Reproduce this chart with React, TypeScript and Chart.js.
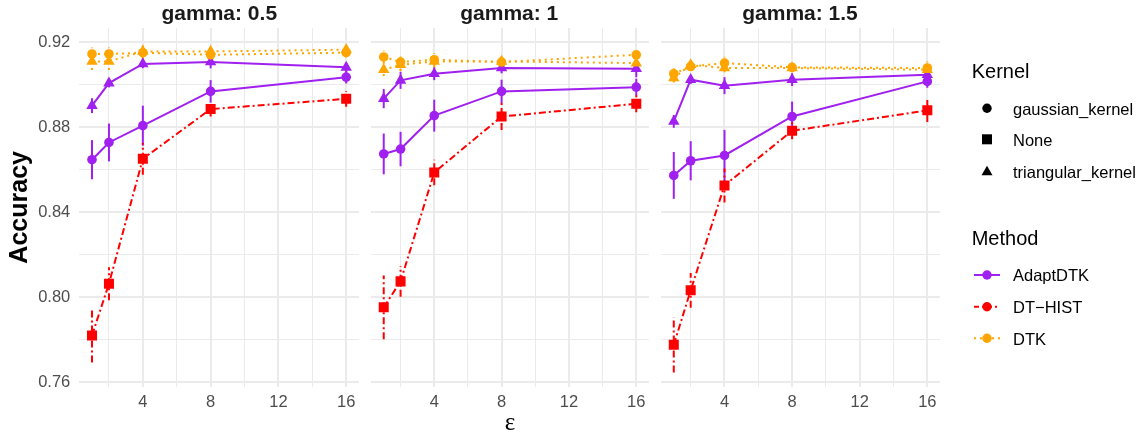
import React, { useEffect, useRef } from "react";
import { Chart, registerables } from "chart.js";

Chart.register(...registerables);

// ---------- data ----------
const EPSILON = [1, 2, 4, 8, 16];
const GAMMA_LABELS = ["gamma: 0.5", "gamma: 1", "gamma: 1.5"];
const X_GRID_TICKS = [2, 4, 6, 8, 10, 12, 14, 16];
const X_LABEL_TICKS = [4, 8, 12, 16];
const Y_GRID_TICKS = [0.76, 0.78, 0.8, 0.82, 0.84, 0.86, 0.88, 0.9, 0.92];
const Y_LABEL_TICKS = [0.76, 0.8, 0.84, 0.88, 0.92];
const X_RANGE = [0.25, 16.75];
const Y_RANGE = [0.758, 0.9266];

const KERNEL_LABELS = ["gaussian_kernel", "None", "triangular_kernel"];
const METHOD_LABELS = ["AdaptDTK", "DT\u2212HIST", "DTK"];

// one row per gamma panel (0.5, 1, 1.5)
const ADAPT_GAUSS = [
  [0.8647, 0.8728, 0.8807, 0.8968, 0.9035],
  [0.8674, 0.8697, 0.8854, 0.8968, 0.8988],
  [0.8573, 0.8642, 0.8667, 0.885, 0.9015],
];
const ADAPT_GAUSS_ERR = [
  [0.0092, 0.0089, 0.0094, 0.0053, 0.003],
  [0.0096, 0.0081, 0.0075, 0.0055, 0.004],
  [0.011, 0.0092, 0.012, 0.007, 0.003],
];
const ADAPT_TRI = [
  [0.8901, 0.9007, 0.9097, 0.9106, 0.9081],
  [0.8934, 0.902, 0.9051, 0.9078, 0.9075],
  [0.8827, 0.9023, 0.8995, 0.9023, 0.9046],
];
const ADAPT_TRI_ERR = [
  [0.0035, 0.002, 0.002, 0.003, 0.002],
  [0.0045, 0.004, 0.003, 0.0025, 0.004],
  [0.003, 0.002, 0.004, 0.003, 0.002],
];
const HIST_NONE = [
  [0.7821, 0.8064, 0.8651, 0.8885, 0.8933],
  [0.7953, 0.8075, 0.8587, 0.885, 0.891],
  [0.7777, 0.8033, 0.8526, 0.8783, 0.8879],
];
const HIST_NONE_ERR = [
  [0.0127, 0.0078, 0.0075, 0.0035, 0.0037],
  [0.015, 0.0072, 0.006, 0.0063, 0.004],
  [0.013, 0.0082, 0.008, 0.004, 0.0055],
];
const DTK_GAUSS = [
  [0.9144, 0.9144, 0.915, 0.914, 0.915],
  [0.913, 0.9106, 0.9117, 0.9106, 0.914],
  [0.9051, 0.9085, 0.9101, 0.9081, 0.9078],
];
const DTK_GAUSS_ERR = [
  [0.003, 0.003, 0.003, 0.002, 0.002],
  [0.003, 0.004, 0.003, 0.002, 0.002],
  [0.004, 0.002, 0.003, 0.002, 0.003],
];
const DTK_TRI = [
  [0.9109, 0.9109, 0.9156, 0.9156, 0.9164],
  [0.907, 0.9093, 0.9109, 0.9109, 0.9101],
  [0.9031, 0.9093, 0.9078, 0.9078, 0.907],
];
const DTK_TRI_ERR = [
  [0.004, 0.004, 0.003, 0.002, 0.002],
  [0.003, 0.003, 0.003, 0.002, 0.003],
  [0.002, 0.002, 0.002, 0.002, 0.002],
];

// ---------- style ----------
const PURPLE = "#A020F0";
const RED = "#FF0000";
const ORANGE = "#FFA500";
const DOTDASH = [7, 3, 2, 3];
const DOTTED = [2, 4];
const SANS = "'Liberation Sans', Arial, Helvetica, sans-serif";
const GRID = "#EBEBEB";

const PANEL_GEOM = [
  { left: 0, width: 366, axisW: 79.3, padRight: 6.7 },
  { left: 364, width: 292, axisW: 5.3, padRight: 6.7 },
  { left: 654, width: 296, axisW: 6, padRight: 10 },
];
const HEIGHT = 437;
const TOP_PAD = 28;
const X_AXIS_H = 50.3;

const near = (arr: number[], v: number) => arr.some((a) => Math.abs(a - v) < 1e-9);

const errorBarPlugin = {
  id: "errorBars",
  beforeDatasetsDraw(chart: any) {
    const { ctx } = chart;
    const xs = chart.scales.x;
    const ys = chart.scales.y;
    chart.data.datasets.forEach((ds: any) => {
      ctx.save();
      ctx.strokeStyle = ds.borderColor;
      ctx.lineWidth = 2;
      ctx.lineCap = "butt";
      ctx.setLineDash(ds.borderDash || []);
      ds.data.forEach((p: any, k: number) => {
        const e = ds.errors[k];
        const px = xs.getPixelForValue(p.x);
        ctx.beginPath();
        ctx.moveTo(px, ys.getPixelForValue(p.y - e));
        ctx.lineTo(px, ys.getPixelForValue(p.y + e));
        ctx.stroke();
      });
      ctx.restore();
    });
  },
};

function Panel({ index }: { index: number }) {
  const ref = useRef<HTMLCanvasElement | null>(null);
  const g = PANEL_GEOM[index];

  useEffect(() => {
    if (!ref.current) return;
    const series = [
      { vals: DTK_GAUSS[index], errs: DTK_GAUSS_ERR[index], color: ORANGE, dash: DOTTED, style: "circle", r: 4.8, label: "DTK gaussian_kernel" },
      { vals: DTK_TRI[index], errs: DTK_TRI_ERR[index], color: ORANGE, dash: DOTTED, style: "triangle", r: 6.6, label: "DTK triangular_kernel" },
      { vals: ADAPT_TRI[index], errs: ADAPT_TRI_ERR[index], color: PURPLE, dash: [], style: "triangle", r: 6.6, label: "AdaptDTK triangular_kernel" },
      { vals: ADAPT_GAUSS[index], errs: ADAPT_GAUSS_ERR[index], color: PURPLE, dash: [], style: "circle", r: 4.8, label: "AdaptDTK gaussian_kernel" },
      { vals: HIST_NONE[index], errs: HIST_NONE_ERR[index], color: RED, dash: DOTDASH, style: "rect", r: 7.1, label: "DT-HIST None" },
    ];
    const datasets = series.map((s) => ({
      label: s.label,
      data: EPSILON.map((x, k) => ({ x, y: s.vals[k] })),
      errors: s.errs,
      borderColor: s.color,
      backgroundColor: s.color,
      pointBackgroundColor: s.color,
      pointBorderColor: s.color,
      pointBorderWidth: 0,
      borderWidth: 2,
      borderDash: s.dash,
      pointStyle: s.style,
      pointRadius: s.r,
      pointHoverRadius: s.r,
      tension: 0,
      fill: false,
    }));

    const chart = new Chart(ref.current, {
      type: "line",
      data: { datasets } as any,
      plugins: [errorBarPlugin],
      options: {
        animation: false,
        responsive: false,
        maintainAspectRatio: false,
        events: [],
        layout: { padding: { top: TOP_PAD, right: g.padRight, left: 0, bottom: 0 } },
        plugins: { legend: { display: false }, tooltip: { enabled: false }, title: { display: false } },
        scales: {
          x: {
            type: "linear",
            min: X_RANGE[0],
            max: X_RANGE[1],
            afterBuildTicks: (s: any) => {
              s.ticks = X_GRID_TICKS.map((v) => ({ value: v }));
            },
            afterFit: (s: any) => {
              s.height = X_AXIS_H;
            },
            ticks: {
              autoSkip: false,
              maxRotation: 0,
              padding: 6,
              color: "#4D4D4D",
              font: { family: SANS, size: 16.5 },
              callback: (v: any) => (near(X_LABEL_TICKS, Number(v)) ? String(v) : ""),
            },
            grid: {
              drawTicks: false,
              color: GRID,
              lineWidth: (c: any) => (c.tick && near(X_LABEL_TICKS, c.tick.value) ? 2 : 1),
            },
            border: { display: false },
            title:
              index === 1
                ? {
                    display: true,
                    text: "\u03B5",
                    color: "#000000",
                    font: { family: "'Liberation Serif', 'DejaVu Serif', serif", size: 25, lineHeight: 1.1 },
                    padding: { top: 0, bottom: 0 },
                  }
                : { display: false },
          },
          y: {
            type: "linear",
            min: Y_RANGE[0],
            max: Y_RANGE[1],
            afterBuildTicks: (s: any) => {
              s.ticks = Y_GRID_TICKS.map((v) => ({ value: v }));
            },
            afterFit: (s: any) => {
              s.width = g.axisW;
            },
            ticks: {
              display: index === 0,
              autoSkip: false,
              padding: 9,
              color: "#4D4D4D",
              font: { family: SANS, size: 16.5 },
              callback: (v: any) => (near(Y_LABEL_TICKS, Number(v)) ? Number(v).toFixed(2) : ""),
            },
            grid: {
              drawTicks: false,
              color: GRID,
              lineWidth: (c: any) => (c.tick && near(Y_LABEL_TICKS, c.tick.value) ? 2 : 1),
            },
            border: { display: false },
            title:
              index === 0
                ? {
                    display: true,
                    text: "Accuracy",
                    color: "#000000",
                    font: { family: SANS, size: 25, weight: "bold", lineHeight: 1.2 },
                    padding: { top: 5, bottom: 0 },
                  }
                : { display: false },
          },
        },
      } as any,
    });
    return () => chart.destroy();
  }, [index]);

  return (
    <canvas
      ref={ref}
      width={g.width}
      height={HEIGHT}
      style={{ position: "absolute", left: g.left, top: 0, width: g.width, height: HEIGHT }}
    />
  );
}

const PANEL_CENTERS = [219.3, 509.3, 800];

function Legend() {
  const kernelRows = [108.3, 139.3, 171.7];
  const methodRows = [275, 306.7, 338.3];
  const methodColors = [PURPLE, RED, ORANGE];
  const methodDash = ["none", "5 3 2 3", "2 4"];
  const textStyle = (baseline: number, size: number, lh: number, ascent: number): React.CSSProperties => ({
    position: "absolute",
    left: 1013,
    top: baseline - ascent,
    fontFamily: SANS,
    fontSize: size,
    lineHeight: `${lh}px`,
    color: "#000",
    whiteSpace: "nowrap",
  });
  return (
    <>
      <svg width={195} height={HEIGHT} style={{ position: "absolute", left: 950, top: 0 }}>
        <circle cx={37} cy={kernelRows[0]} r={4.7} fill="#000" />
        <rect x={32} y={kernelRows[1] - 5} width={10} height={10} fill="#000" />
        <polygon
          points={`37,${kernelRows[2] - 6} 42.5,${kernelRows[2] + 3.5} 31.5,${kernelRows[2] + 3.5}`}
          fill="#000"
        />
        {methodRows.map((y, i) => (
          <g key={i}>
            <line x1={24} x2={50} y1={y} y2={y} stroke={methodColors[i]} strokeWidth={2} strokeDasharray={methodDash[i]} />
            <circle cx={37} cy={y} r={4.7} fill={methodColors[i]} />
          </g>
        ))}
      </svg>
      <div style={{ ...textStyle(78.3, 20, 24, 18.9), left: 971.7 }}>Kernel</div>
      {KERNEL_LABELS.map((t, i) => (
        <div key={t} style={textStyle(kernelRows[i] + 6, 16.5, 20, 15.7)}>
          {t}
        </div>
      ))}
      <div style={{ ...textStyle(245, 20, 24, 18.9), left: 971.7 }}>Method</div>
      {METHOD_LABELS.map((t, i) => (
        <div key={t} style={textStyle(methodRows[i] + 6, 16.5, 20, 15.7)}>
          {t}
        </div>
      ))}
    </>
  );
}

export default function App() {
  return (
    <div style={{ position: "absolute", left: 0, top: 0, width: 1145, height: HEIGHT, background: "#fff", overflow: "hidden" }}>
      {[0, 1, 2].map((i) => (
        <Panel key={i} index={i} />
      ))}
      {GAMMA_LABELS.map((t, i) => (
        <div
          key={t}
          style={{
            position: "absolute",
            left: PANEL_CENTERS[i] - 150,
            width: 300,
            top: -1,
            height: 28,
            lineHeight: "28px",
            textAlign: "center",
            fontFamily: SANS,
            fontWeight: "bold",
            fontSize: 21,
            color: "#1A1A1A",
          }}
        >
          {t}
        </div>
      ))}
      <Legend />
    </div>
  );
}
